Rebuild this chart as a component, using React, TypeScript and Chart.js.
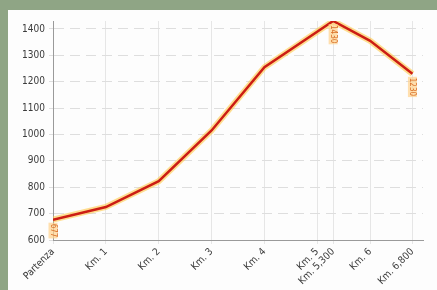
import React, { useEffect, useRef } from "react";
import { Chart, registerables } from "chart.js";

Chart.register(...registerables);

const kmPositions = [0, 1, 2, 3, 4, 5.3, 6, 6.8];
const altitudes = [677, 725, 823, 1015, 1255, 1430, 1355, 1230];
const tickPositions = [0, 1, 2, 3, 4, 5, 5.3, 6, 6.8];
const tickLabels = ["Partenza", "Km. 1", "Km. 2", "Km. 3", "Km. 4", "Km. 5", "Km. 5,300", "Km. 6", "Km. 6,800"];
const yTicks = [600, 700, 800, 900, 1000, 1100, 1200, 1300, 1400];
const labelledIndexes = [0, 5, 7];

const FONT = "'Liberation Sans Narrow', 'DejaVu Sans Condensed', Arial, sans-serif";

const valueLabelPlugin = {
  id: "valueLabels",
  afterDatasetsDraw(chart: any) {
    const meta = chart.getDatasetMeta(0);
    const ctx = chart.ctx;
    ctx.save();
    ctx.font = `8px ${FONT}`;
    labelledIndexes.forEach((i) => {
      const pt = meta.data[i];
      if (!pt) return;
      const text = String(altitudes[i]);
      const w = ctx.measureText(text).width;
      ctx.save();
      ctx.translate(pt.x, pt.y + 4);
      ctx.rotate(Math.PI / 2);
      ctx.fillStyle = "rgba(255, 210, 140, 0.7)";
      ctx.fillRect(-1, -4.5, w + 2, 9);
      ctx.fillStyle = "#d9702a";
      ctx.textAlign = "left";
      ctx.textBaseline = "middle";
      ctx.fillText(text, 0, 0);
      ctx.restore();
    });
    ctx.restore();
  },
};

export default function App() {
  const ref = useRef<HTMLCanvasElement>(null);

  useEffect(() => {
    if (!ref.current) return;
    const points = kmPositions.map((x, i) => ({ x, y: altitudes[i] }));
    const chart = new Chart(ref.current, {
      type: "line",
      data: {
        datasets: [
          {
            data: points,
            borderColor: "#cc1d14",
            borderWidth: 2.5,
            pointRadius: 0,
            tension: 0,
            order: 1,
          },
          {
            data: points,
            borderColor: "rgba(255, 200, 70, 0.6)",
            borderWidth: 6,
            pointRadius: 0,
            tension: 0,
            order: 2,
          },
        ],
      },
      options: {
        responsive: false,
        animation: false,
        layout: { padding: { left: 0, top: 21, right: 14, bottom: 0 } },
        plugins: { legend: { display: false }, tooltip: { enabled: false } },
        scales: {
          x: {
            type: "linear",
            min: 0,
            max: 7,
            afterBuildTicks: (axis: any) => {
              axis.ticks = tickPositions.map((v) => ({ value: v }));
            },
            afterFit: (axis: any) => {
              axis.height = 50;
            },
            ticks: {
              autoSkip: false,
              maxRotation: 45,
              minRotation: 45,
              padding: 2,
              color: "#3a3a3a",
              font: { family: FONT, size: 10 },
              callback: (v: any) => {
                const idx = tickPositions.indexOf(Number(v));
                return idx >= 0 ? tickLabels[idx] : "";
              },
            },
            grid: { color: "#e6e6e6", lineWidth: 1, tickLength: 4 },
            border: { color: "#9a9a9a" },
          },
          y: {
            min: 600,
            max: 1430,
            afterBuildTicks: (axis: any) => {
              axis.ticks = yTicks.map((v) => ({ value: v }));
            },
            afterFit: (axis: any) => {
              axis.width = 53;
            },
            ticks: {
              padding: 4,
              color: "#3a3a3a",
              font: { family: FONT, size: 10 },
              callback: (v: any) => String(v),
            },
            grid: { color: "#dedede", lineWidth: 1, tickLength: 4 },
            border: { color: "#9a9a9a", dash: [10, 6] },
          },
        },
      },
      plugins: [valueLabelPlugin],
    });
    return () => chart.destroy();
  }, []);

  return (
    <div
      style={{
        position: "fixed",
        left: 0,
        top: 0,
        width: 437,
        height: 290,
        background: "#8fa585",
        overflow: "hidden",
      }}
    >
      <div
        style={{
          position: "absolute",
          left: 8,
          top: 10,
          width: 429,
          height: 280,
          background: "#fdfdfd",
        }}
      />
      <canvas ref={ref} width={437} height={290} style={{ position: "absolute", left: 0, top: 0 }} />
    </div>
  );
}
